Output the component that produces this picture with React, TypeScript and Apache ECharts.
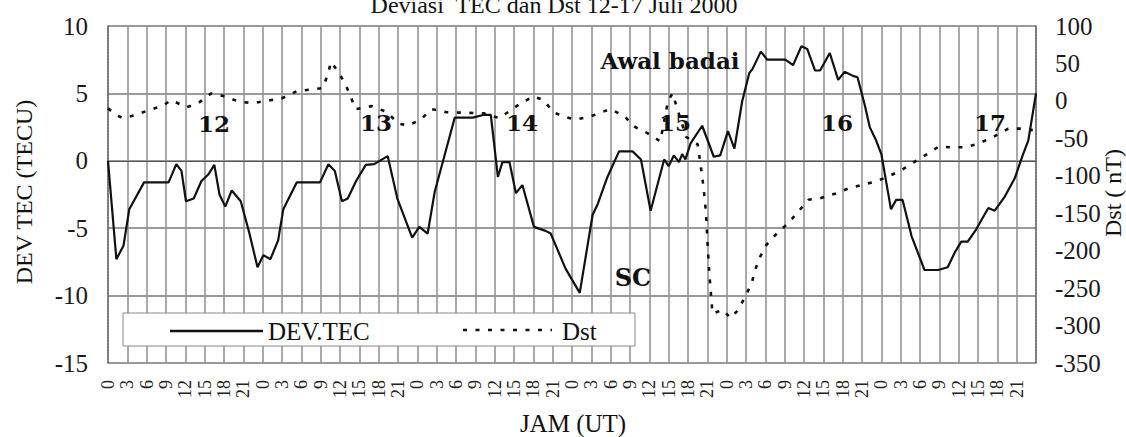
import React, { useEffect, useRef } from "react";
import * as echarts from "echarts";

// DEV.TEC vertices: hour since 12 July 00 UT, value in TECU
const devTecHours = [0, 1.3, 2.4, 3.3, 5.6, 9.4, 10.6, 11.4, 12.1, 13.3, 14.5, 15.6, 16.5, 17.3, 18.2, 19.2, 20.6, 21.9, 23.2, 24.1, 25.2, 26.4, 27.2, 29.3, 32.9, 34.2, 35.2, 36.3, 37.2, 38.5, 40.0, 41.3, 43.4, 44.9, 47.2, 48.3, 49.6, 50.7, 53.8, 56.6, 58.2, 59.4, 60.5, 61.2, 62.3, 63.3, 64.3, 66.1, 67.9, 68.7, 71.0, 73.2, 75.2, 76.0, 77.5, 79.3, 81.4, 82.7, 84.2, 86.3, 87.0, 87.8, 88.6, 89.1, 89.6, 90.4, 92.2, 94.0, 95.0, 96.2, 97.2, 98.4, 99.5, 100.0, 101.3, 102.3, 105.1, 106.3, 107.6, 108.5, 109.7, 110.5, 112.0, 113.3, 114.3, 115.6, 116.3, 117.4, 118.2, 119.2, 120.0, 121.5, 122.3, 123.3, 124.7, 126.7, 128.8, 130.3, 131.4, 132.4, 133.4, 134.7, 136.6, 137.6, 139.1, 140.7, 142.0, 142.8, 144.0];
const devTecValues = [0, -7.3, -6.3, -3.6, -1.6, -1.6, -0.25, -0.75, -3.0, -2.8, -1.5, -1.0, -0.3, -2.5, -3.4, -2.2, -3.0, -5.3, -7.9, -7.0, -7.3, -5.9, -3.6, -1.6, -1.6, -0.25, -0.75, -3.0, -2.8, -1.5, -0.3, -0.25, 0.35, -2.8, -5.7, -4.9, -5.4, -2.3, 3.2, 3.2, 3.4, 3.4, -1.2, -0.1, -0.1, -2.4, -1.8, -4.9, -5.2, -5.4, -8.0, -9.8, -4.0, -3.2, -1.2, 0.7, 0.7, 0.1, -3.7, 0.1, -0.4, 0.4, -0.1, 0.5, 0.1, 1.3, 2.6, 0.3, 0.4, 2.2, 0.9, 4.4, 6.5, 6.8, 8.1, 7.5, 7.5, 7.1, 8.5, 8.3, 6.7, 6.7, 8.0, 6.0, 6.6, 6.3, 6.2, 4.2, 2.5, 1.5, 0.5, -3.6, -2.9, -2.9, -5.6, -8.1, -8.1, -7.9, -6.8, -6.0, -6.0, -5.1, -3.5, -3.7, -2.7, -1.3, 0.5, 1.5, 5.0];

// Dst vertices: hour, value in nT
const dstHours = [0, 1.3, 2.3, 4.3, 6.4, 8.4, 9.8, 12.2, 14.0, 16.0, 18.2, 20.3, 22.5, 24.5, 27.0, 29.3, 31.4, 33.3, 34.1, 34.6, 35.7, 36.8, 37.7, 38.4, 40.9, 43.3, 45.0, 46.5, 48.5, 50.2, 52.5, 55.7, 58.3, 60.7, 64.1, 66.0, 67.6, 69.1, 70.7, 72.5, 74.8, 77.9, 80.1, 81.6, 83.7, 85.7, 86.9, 87.6, 89.7, 91.5, 92.0, 92.4, 92.8, 93.0, 93.3, 93.8, 95.4, 96.6, 97.8, 98.9, 99.9, 100.4, 101.2, 102.2, 103.8, 105.6, 107.1, 108.7, 110.5, 112.8, 114.9, 117.0, 119.0, 121.1, 123.2, 125.2, 127.3, 128.9, 130.9, 133.0, 135.1, 137.4, 139.7, 141.8, 143.5];
const dstValues = [-10, -19, -23, -19, -12, -7, 1, -8.5, -3, 10, 6, -1, -3, 0, 3.5, 13, 15, 17, 35, 52, 39, 23, 5, -11, -7, -15, -30, -33, -25, -11, -15, -16, -16.5, -23, -3, 6, 1, -15, -21, -25, -21, -11, -20, -34, -43, -54, 0, 10, -48, -58, -88, -115, -150, -186, -230, -284, -279, -290, -279, -261, -243, -226, -208, -192, -177, -163, -148, -132, -130, -124, -117, -112, -108, -101, -92, -81, -70, -61, -62, -62, -57, -48, -37, -37, -39];

const hoursPerDay = 24;
const totalHours = 144;
const hourStep = 3;
const tecRange = { min: -15, max: 10, step: 5 };
const dstRange = { min: -350, max: 100, step: 50 };

const titleText = "Deviasi  TEC dan Dst 12-17 Juli 2000";
const leftAxisName = "DEV TEC (TECU)";
const rightAxisName = "Dst ( nT)";
const xAxisName = "JAM (UT)";
const seriesNames = ["DEV.TEC", "Dst"];
const dayLabels = ["12", "13", "14", "15", "16", "17"];
const dayLabelPos = [[214, 123], [376, 122], [522, 122], [675, 122], [837, 122], [990, 122]];

const SERIF = "'Liberation Serif', 'Times New Roman', serif";
const BOLD = "'DejaVu Serif', serif";

export default function App() {
  const ref = useRef<HTMLDivElement>(null);
  useEffect(() => {
    if (!ref.current) return;
    const chart = echarts.init(ref.current, null, { renderer: "svg" });
    const tecData = devTecHours.map((h, i) => [h, devTecValues[i]]);
    const dstData = dstHours.map((h, i) => [h, dstValues[i]]);

    const txt = (text: string, x: number, y: number, size: number, family: string, weight: any, align = "center", rotation = 0) => ({
      type: "text",
      x,
      y,
      rotation,
      z: 20,
      style: {
        text,
        fontSize: size,
        fontFamily: family,
        fontWeight: weight,
        fill: "#111",
        align,
        verticalAlign: "middle",
      },
    });

    const graphic: any[] = [
      txt(titleText, 554, 5, 24, SERIF, "normal"),
      txt(leftAxisName, 24, 192, 24, SERIF, "normal", "center", Math.PI / 2),
      txt(rightAxisName, 1113, 193, 24, SERIF, "normal", "center", Math.PI / 2),
      txt(xAxisName, 573, 423, 25, SERIF, "normal"),
      ...dayLabels.map((d, i) => txt(d, dayLabelPos[i][0], dayLabelPos[i][1], 23, BOLD, "bold")),
      txt("Awal badai", 670, 60, 23, BOLD, "bold"),
      txt("SC", 633, 277, 24, BOLD, "bold"),
      {
        type: "rect",
        z: 15,
        shape: { x: 123, y: 313, width: 512, height: 33 },
        style: { fill: "#fff", stroke: "#8a8a8a", lineWidth: 1 },
      },
      {
        type: "line",
        z: 16,
        shape: { x1: 170, y1: 331, x2: 263, y2: 331 },
        style: { stroke: "#111", lineWidth: 2.5 },
      },
      txt(seriesNames[0], 268, 331, 25, SERIF, "normal", "left"),
      {
        type: "line",
        z: 16,
        shape: { x1: 463, y1: 330, x2: 552, y2: 330 },
        style: { stroke: "#111", lineWidth: 2.6, lineDash: [4, 8.5] },
      },
      txt(seriesNames[1], 562, 331, 25, SERIF, "normal", "left"),
    ];

    chart.setOption({
      animation: false,
      backgroundColor: "#fff",
      grid: { left: 108, right: 90, top: 26, bottom: 74 },
      xAxis: {
        type: "value",
        min: 0,
        max: totalHours,
        interval: hourStep,
        axisLine: { show: true, lineStyle: { color: "#555", width: 1.2 } },
        axisTick: { show: false },
        axisLabel: {
          rotate: 90,
          fontSize: 18,
          fontFamily: SERIF,
          color: "#222",
          margin: 17,
          showMaxLabel: false,
          hideOverlap: false,
          formatter: (v: number) => (v >= totalHours ? "" : String(v % hoursPerDay)),
        },
        splitLine: { show: true, lineStyle: { color: "#959595", width: 1.6 } },
      },
      yAxis: [
        {
          type: "value",
          position: "left",
          min: tecRange.min,
          max: tecRange.max,
          interval: tecRange.step,
          axisLine: { show: true, lineStyle: { color: "#666", type: "dotted", width: 1.5 } },
          axisTick: { show: false },
          axisLabel: { fontSize: 25, fontFamily: SERIF, color: "#1a1a1a", margin: 20 },
          splitLine: { show: true, lineStyle: { color: "#777", width: 1.6 } },
        },
        {
          type: "value",
          position: "right",
          min: dstRange.min,
          max: dstRange.max,
          interval: dstRange.step,
          axisLine: { show: true, lineStyle: { color: "#666", type: "dotted", width: 1.5 } },
          axisTick: { show: false },
          axisLabel: { fontSize: 25, fontFamily: SERIF, color: "#1a1a1a", margin: 19 },
          splitLine: { show: false },
        },
      ],
      series: [
        {
          name: seriesNames[0],
          type: "line",
          yAxisIndex: 0,
          data: tecData,
          symbol: "none",
          lineStyle: { color: "#111", width: 2.2 },
          z: 3,
        },
        {
          name: seriesNames[1],
          type: "line",
          yAxisIndex: 1,
          data: dstData,
          symbol: "none",
          lineStyle: { color: "#111", width: 2.6, type: [4, 8.5] },
          z: 3,
        },
      ],
      graphic,
    });
    return () => chart.dispose();
  }, []);
  return <div ref={ref} style={{ position: "absolute", left: 0, top: 0, width: 1126, height: 437 }} />;
}
